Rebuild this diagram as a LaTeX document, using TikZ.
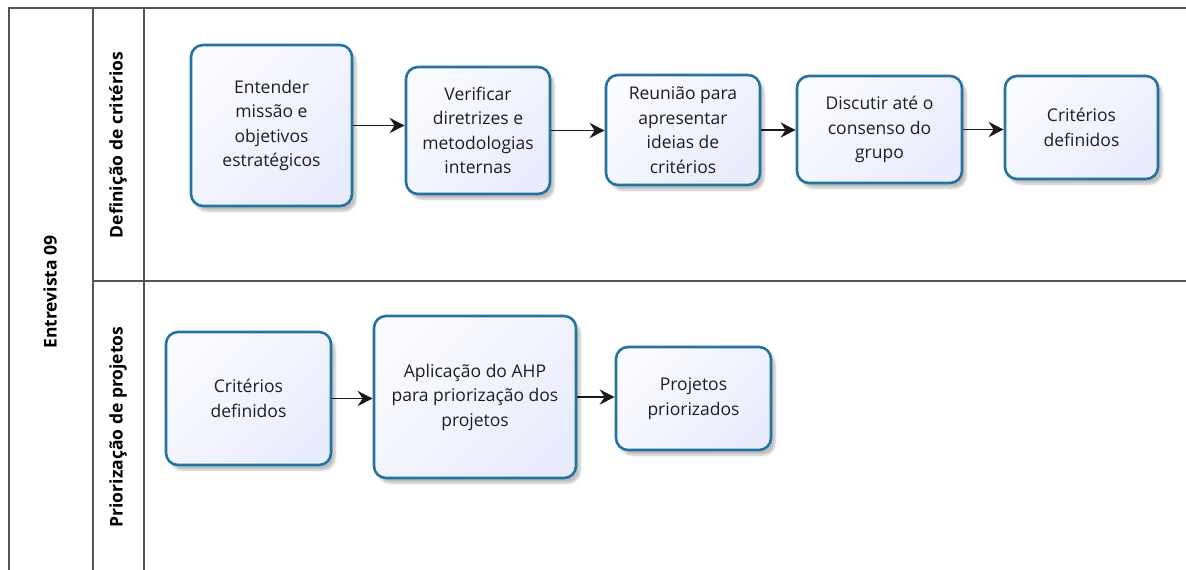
\documentclass[tikz,border=0pt]{standalone}
\usepackage{fontspec}
\setmainfont{Open Sans}
\usetikzlibrary{arrows.meta,shadows.blur}
\definecolor{boxline}{RGB}{36,115,160}
\definecolor{boxfillA}{RGB}{250,251,255}
\definecolor{boxfillB}{RGB}{233,236,251}
\definecolor{poolline}{RGB}{85,85,85}
\definecolor{txt}{RGB}{30,30,30}
\tikzset{
  task/.style={draw=boxline, line width=2.6pt, rounded corners=12pt,
    shading=axis, left color=boxfillA, right color=boxfillB, shading angle=45,
    align=center, text=txt, font=\fontsize{17.5}{24.5}\selectfont,
    inner sep=0pt, minimum width=#1,
    blur shadow={shadow xshift=4pt, shadow yshift=-5pt, shadow blur steps=6, shadow opacity=25}},
  flow/.style={draw=black!90, line width=1.5pt, -{Stealth[length=15pt,width=15pt]}},
  pool/.style={draw=poolline, line width=1.4pt},
  lanelabel/.style={rotate=90, font=\bfseries\fontsize{17.5}{20}\selectfont, text=black}
}
\begin{document}
\begin{tikzpicture}[x=1pt, y=-1pt]
\useasboundingbox (0,0) rectangle (1186,570);

% pool and lane frame
\draw[pool] (9,570) -- (9,8) -- (1186,8);
\draw[pool] (93,8) -- (93,570);
\draw[pool] (144,8) -- (144,570);
\draw[pool] (93,281) -- (1186,281);

\node[lanelabel] (pname) at (50,292) {Entrevista 09};
\node[lanelabel] (lane1) at (118,145) {Definição de critérios};
\node[lanelabel] (lane2) at (118,427) {Priorização de projetos};

% lane 1: definition of criteria
\node[task=161pt, minimum height=161pt] (n1) at (271.5,125.5) {Entender\\missão e\\objetivos\\estratégicos};
\node[task=144pt, minimum height=127pt] (n2) at (478,130.5) {Verificar\\diretrizes e\\metodologias\\internas};
\node[task=154pt, minimum height=110pt] (n3) at (683,130) {Reunião para\\apresentar\\ideias de\\critérios};
\node[task=165pt, minimum height=107pt] (n4) at (879.5,129.5) {Discutir até o\\consenso do\\grupo};
\node[task=153pt, minimum height=103pt] (n5) at (1081.5,127.5) {Critérios\\definidos};

% lane 2: project prioritisation
\node[task=165pt, minimum height=133pt] (m1) at (248.5,398.5) {Critérios\\definidos};
\node[task=202pt, minimum height=162pt] (m2) at (475,397) {Aplicação do AHP\\para priorização dos\\projetos};
\node[task=155pt, minimum height=103pt] (m3) at (693.5,398.5) {Projetos\\priorizados};

% sequence flows
\draw[flow] (n1.east) -- (n1.east -| n2.west);
\draw[flow] (n2.east) -- (n2.east -| n3.west);
\draw[flow] (n3.east) -- (n3.east -| n4.west);
\draw[flow] (n4.east) -- (n4.east -| n5.west);
\draw[flow] (m1.east) -- (m1.east -| m2.west);
\draw[flow] (m2.east) -- (m2.east -| m3.west);
\end{tikzpicture}
\end{document}
